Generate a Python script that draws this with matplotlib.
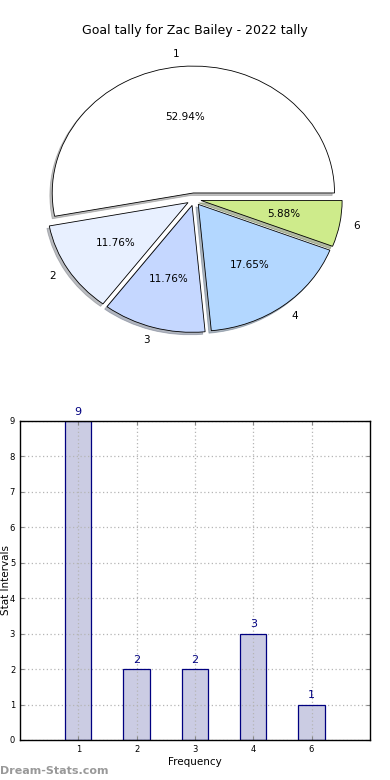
import matplotlib
matplotlib.use("Agg")
import matplotlib.pyplot as plt

labels = ["1", "2", "3", "4", "6"]
counts = [9, 2, 2, 3, 1]
pie_colors = ["#ffffff", "#e8f0ff", "#c5d7ff", "#b3d7ff", "#ceeb8b"]
explode = [0.05, 0.05, 0.05, 0.05, 0.05]
title = "Goal tally for Zac Bailey - 2022 tally"
yticks = list(range(0, 10))

plt.rcParams['font.family'] = ['DejaVu Sans']
fig = plt.figure(figsize=(3.9, 7.8), dpi=100)

# Pie
axp = fig.add_axes([0.027, 0.533, 0.941, 0.423])
wedges, texts, autotexts = axp.pie(
    counts, labels=labels, colors=pie_colors, explode=explode,
    autopct="%1.2f%%", shadow={'ox': -0.012, 'oy': -0.014, 'shade': 0.5},
    startangle=0,
    wedgeprops=dict(edgecolor="black", linewidth=0.6),
    textprops=dict(fontsize=7.5))
axp.set_aspect('auto')
axp.set_xlim(-1.3, 1.3)
axp.set_ylim(-1.3, 1.3)
axp.axis('off')
fig.text(0.5, 0.961, title, ha='center', va='center', fontsize=9)

# Bar
axb = fig.add_axes([0.0513, 0.0513, 0.897, 0.409])
x = list(range(len(labels)))
axb.bar(x, counts, width=0.45, color="#cbcce3", linewidth=0, zorder=1)
axb.bar(x, counts, width=0.45, fill=False, edgecolor="#000080",
        linewidth=0.9, zorder=3)
for xi, c in zip(x, counts):
    axb.text(xi, c + 0.12, str(c), ha='center', va='bottom',
             color="#000080", fontsize=8)
axb.set_xlim(-1, 5)
axb.set_ylim(0, 9)
axb.set_xticks(x)
axb.set_xticklabels(labels)
axb.set_yticks(yticks)
axb.tick_params(labelsize=6, direction='in', length=3, top=True, right=True,
                color='#888888')
axb.set_axisbelow(False)
axb.grid(True, color='#b5b5b5', linewidth=0.9, dashes=(1, 2))
axb.set_xlabel("Frequency", fontsize=7.5, labelpad=2)
axb.set_ylabel("Stat Intervals", fontsize=7.5)
axb.yaxis.set_label_coords(-0.027, 0.5)
for s in axb.spines.values():
    s.set_linewidth(1.0)
    s.set_zorder(4)
fig.text(0.0, 0.012, "Dream-Stats.com", ha='left', va='center',
         fontsize=8, color='#999999', fontweight='bold')

fig.savefig("out.png", dpi=100)
